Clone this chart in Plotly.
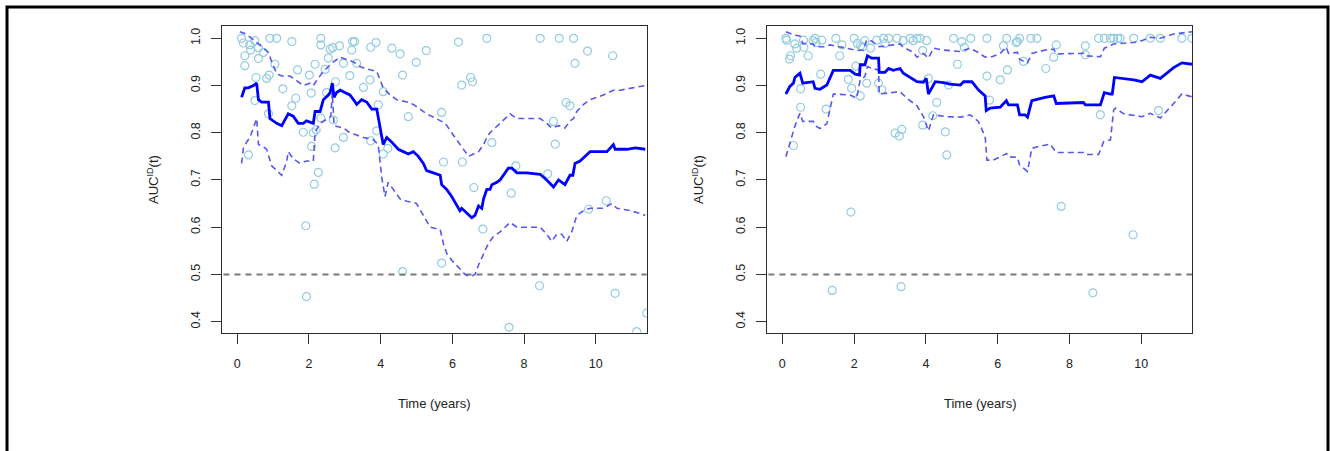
import plotly.graph_objects as go

# ---------------- data: left panel ----------------
left_auc_t = [0.12,0.21,0.31,0.45,0.54,0.59,0.68,0.87,0.91,1.10,1.24,1.42,1.56,1.70,1.84,1.93,2.12,2.17,2.31,2.40,
              2.54,2.59,2.65,2.70,2.77,2.87,3.00,3.14,3.24,3.33,3.47,3.61,3.75,3.89,4.07,4.17,4.31,4.49,4.63,4.77,
              4.91,5.05,5.19,5.28,5.47,5.66,5.70,5.84,5.98,6.12,6.21,6.26,6.45,6.54,6.63,6.73,6.82,6.87,6.96,7.05,
              7.10,7.24,7.33,7.47,7.56,7.66,7.80,8.07,8.45,8.63,8.82,8.96,9.14,9.28,9.36,9.42,9.56,9.84,10.31,10.49,
              10.54,10.87,11.10,11.38]
left_auc = [0.875,0.895,0.895,0.900,0.905,0.870,0.865,0.865,0.830,0.820,0.815,0.840,0.835,0.820,0.820,0.825,0.820,0.845,0.845,0.870,
            0.880,0.885,0.905,0.875,0.885,0.890,0.885,0.880,0.870,0.860,0.870,0.865,0.850,0.850,0.775,0.790,0.780,0.765,0.760,0.755,
            0.760,0.750,0.735,0.720,0.715,0.710,0.690,0.680,0.665,0.645,0.635,0.640,0.625,0.620,0.625,0.645,0.640,0.660,0.680,0.680,
            0.690,0.695,0.700,0.715,0.725,0.725,0.715,0.715,0.712,0.700,0.685,0.700,0.690,0.710,0.710,0.735,0.740,0.760,0.760,0.775,
            0.765,0.765,0.768,0.765]

left_hi_t = [0.07,0.21,0.40,0.63,0.87,0.96,1.10,1.24,1.47,1.66,1.84,2.03,2.12,2.21,2.40,2.68,2.87,3.05,3.24,3.42,
             3.61,3.89,4.07,4.26,4.45,4.73,4.91,5.10,5.28,5.42,5.66,5.80,5.98,6.17,6.31,6.45,6.59,6.73,6.87,6.96,
             7.05,7.19,7.38,7.61,7.80,8.45,8.63,8.77,8.96,9.14,9.28,9.38,9.47,9.66,9.84,10.21,10.49,10.68,11.38]
left_hi = [1.014,1.010,1.000,0.985,0.970,0.950,0.925,0.920,0.920,0.910,0.900,0.905,0.900,0.910,0.930,0.950,0.960,0.955,0.950,0.940,
           0.935,0.930,0.895,0.880,0.870,0.865,0.860,0.850,0.840,0.835,0.825,0.820,0.800,0.780,0.765,0.750,0.755,0.760,0.775,0.790,
           0.800,0.810,0.825,0.840,0.830,0.830,0.820,0.810,0.815,0.810,0.825,0.830,0.845,0.860,0.870,0.880,0.890,0.890,0.900]

left_lo_t = [0.12,0.17,0.26,0.35,0.45,0.49,0.54,0.59,0.73,0.82,0.96,1.10,1.24,1.38,1.42,1.56,1.75,1.93,2.12,2.17,
             2.30,2.54,2.61,2.65,2.70,2.96,3.14,3.33,3.52,3.80,3.93,4.03,4.12,4.21,4.35,4.54,4.73,5.00,5.19,5.38,
             5.66,5.75,5.84,5.98,6.17,6.35,6.49,6.63,6.73,6.87,7.00,7.14,7.33,7.61,7.80,8.45,8.63,8.77,8.91,9.05,
             9.19,9.33,9.47,9.66,9.84,10.21,10.45,10.59,10.96,11.19,11.38]
left_lo = [0.735,0.767,0.780,0.790,0.810,0.820,0.830,0.775,0.770,0.765,0.730,0.720,0.710,0.740,0.760,0.745,0.735,0.740,0.740,0.800,
           0.820,0.830,0.835,0.885,0.815,0.810,0.800,0.795,0.790,0.785,0.775,0.705,0.665,0.695,0.680,0.660,0.655,0.650,0.625,0.600,
           0.595,0.565,0.545,0.530,0.515,0.500,0.495,0.500,0.520,0.545,0.565,0.580,0.590,0.610,0.600,0.600,0.585,0.570,0.585,0.585,
           0.570,0.590,0.625,0.635,0.640,0.640,0.650,0.640,0.635,0.630,0.625]

left_pts_t = [0.12,0.17,0.21,0.21,0.31,0.35,0.37,0.49,0.49,0.52,0.59,0.59,0.73,0.82,0.87,0.89,0.91,1.05,1.10,1.27,
              1.52,1.52,1.63,1.68,1.84,1.91,1.93,2.01,2.06,2.07,2.12,2.15,2.17,2.20,2.26,2.33,2.33,2.33,2.45,2.49,
              2.54,2.59,2.66,2.68,2.73,2.74,2.85,2.96,2.96,3.14,3.19,3.22,3.27,3.33,3.52,3.70,3.72,3.72,3.87,3.89,
              3.93,4.07,4.07,4.20,4.31,4.54,4.61,4.61,4.77,4.99,5.27,5.70,5.70,5.75,6.17,6.26,6.28,6.51,6.56,6.60,
              6.85,6.96,7.10,7.58,7.64,7.77,8.43,8.45,8.66,8.82,8.87,8.98,9.17,9.28,9.38,9.42,9.77,9.80,10.29,10.47,
              10.54,11.14,11.42]
left_pts = [1.000,0.990,0.963,0.942,0.753,0.986,0.975,0.995,0.868,0.917,0.957,0.980,0.970,0.915,0.840,0.922,1.000,0.945,1.000,0.893,
            0.993,0.857,0.873,0.933,0.801,0.603,0.453,0.922,0.884,0.771,0.800,0.691,0.945,0.806,0.716,1.000,0.986,0.831,0.934,0.885,
            0.958,0.977,0.980,0.827,0.768,0.908,0.984,0.947,0.790,0.921,0.975,0.993,0.993,0.947,0.896,0.912,0.981,0.783,0.991,0.804,
            0.859,0.887,0.755,0.767,0.979,0.967,0.922,0.506,0.834,0.949,0.974,0.843,0.524,0.738,0.992,0.901,0.738,0.917,0.908,0.684,
            0.596,1.000,0.779,0.388,0.672,0.730,0.476,1.000,0.713,0.824,0.776,1.000,0.864,0.857,1.000,0.947,0.973,0.638,0.656,0.963,
            0.460,0.379,0.418]

# ---------------- data: right panel ----------------
right_auc_t = [0.10,0.21,0.31,0.35,0.49,0.57,0.86,0.91,1.05,1.24,1.42,1.89,2.03,2.15,2.17,2.30,2.37,2.49,2.68,2.70,
               2.86,2.96,3.09,3.28,3.37,3.56,3.75,3.93,4.01,4.07,4.26,4.49,4.67,4.96,5.05,5.28,5.46,5.65,5.68,5.79,
               6.07,6.24,6.30,6.55,6.61,6.76,6.83,6.95,7.14,7.32,7.56,7.63,8.39,8.44,8.86,8.97,9.14,9.19,9.25,9.79,
               10.02,10.25,10.53,10.90,11.13,11.41]
right_auc = [0.882,0.898,0.905,0.917,0.926,0.905,0.908,0.894,0.892,0.901,0.932,0.932,0.924,0.922,0.944,0.944,0.963,0.958,0.958,0.928,
             0.928,0.936,0.932,0.936,0.926,0.917,0.908,0.907,0.915,0.882,0.908,0.906,0.903,0.901,0.908,0.908,0.891,0.878,0.847,0.852,
             0.854,0.868,0.859,0.859,0.838,0.838,0.833,0.868,0.872,0.875,0.878,0.862,0.864,0.859,0.859,0.885,0.882,0.882,0.917,0.912,
             0.908,0.922,0.915,0.938,0.948,0.945]

right_hi_t = [0.10,0.31,0.49,0.57,0.86,0.91,1.15,1.33,1.79,2.07,2.26,2.35,2.49,2.70,3.09,3.28,3.37,3.65,3.75,3.93,
              4.07,4.21,4.49,4.96,5.23,5.46,5.65,5.84,6.07,6.24,6.30,6.55,6.61,6.83,6.95,7.32,7.56,7.63,8.39,8.44,
              8.86,8.97,9.23,9.79,10.02,10.25,10.53,10.90,11.41]
right_hi = [1.014,1.007,1.005,0.989,0.988,0.982,0.982,0.986,0.979,0.974,0.975,0.996,0.994,0.982,0.986,0.988,0.981,0.970,0.960,0.968,
            0.958,0.979,0.975,0.972,0.979,0.970,0.960,0.961,0.968,0.981,0.968,0.970,0.955,0.948,0.968,0.975,0.977,0.967,0.968,0.963,
            0.961,0.979,0.988,0.991,0.995,1.002,1.000,1.009,1.014]

right_lo_t = [0.10,0.21,0.35,0.49,0.57,0.86,0.96,1.05,1.24,1.42,1.89,2.07,2.17,2.30,2.37,2.49,2.68,2.70,3.00,3.28,
              3.47,3.75,3.93,4.07,4.21,4.58,4.96,5.23,5.46,5.65,5.70,5.88,6.25,6.30,6.55,6.61,6.83,6.95,7.14,7.46,
              7.63,8.39,8.44,8.81,8.95,9.14,9.23,9.28,9.51,9.79,10.02,10.25,10.53,10.90,11.13,11.41]
right_lo = [0.749,0.778,0.814,0.841,0.824,0.824,0.813,0.809,0.819,0.882,0.880,0.873,0.912,0.919,0.940,0.936,0.933,0.882,0.884,0.887,
            0.873,0.857,0.834,0.804,0.838,0.834,0.833,0.838,0.824,0.792,0.742,0.742,0.756,0.749,0.748,0.732,0.718,0.767,0.771,0.776,
            0.758,0.758,0.754,0.754,0.781,0.785,0.848,0.852,0.840,0.836,0.834,0.841,0.831,0.862,0.882,0.876]

right_pts_t = [0.10,0.12,0.20,0.23,0.31,0.35,0.40,0.51,0.51,0.59,0.60,0.72,0.86,0.91,0.94,1.07,1.10,1.22,1.39,1.49,
               1.60,1.66,1.84,1.91,1.93,2.00,2.05,2.09,2.17,2.18,2.24,2.30,2.35,2.46,2.63,2.68,2.77,2.82,2.86,2.96,
               3.14,3.19,3.26,3.31,3.33,3.37,3.56,3.65,3.75,3.84,3.91,3.91,4.02,4.07,4.19,4.30,4.54,4.58,4.63,4.77,
               4.88,5.00,5.07,5.25,5.70,5.70,5.77,6.07,6.16,6.25,6.27,6.51,6.55,6.61,6.72,6.92,7.09,7.34,7.56,7.63,
               7.77,8.44,8.44,8.65,8.81,8.86,8.97,9.14,9.23,9.34,9.41,9.77,9.79,10.25,10.48,10.53,11.13,11.41]
right_pts = [1.000,0.996,0.956,0.963,0.773,0.988,0.979,0.893,0.854,0.996,0.981,0.963,0.995,1.000,0.991,0.924,0.996,0.850,0.466,1.000,
             0.963,0.986,0.913,0.632,0.894,1.000,0.941,0.989,0.878,0.984,0.982,0.995,0.905,0.979,0.996,0.905,0.891,1.000,0.989,1.000,
             0.799,1.000,0.793,0.474,0.807,0.995,1.000,0.995,1.000,1.000,0.974,0.816,0.995,0.915,0.836,0.864,0.802,0.753,0.901,1.000,
             0.945,0.993,0.981,1.000,1.000,0.920,0.869,0.912,0.984,1.000,0.933,0.991,0.993,1.000,0.951,1.000,1.000,0.936,0.960,0.986,
             0.644,0.984,0.965,0.461,1.000,0.838,1.000,1.000,1.000,1.000,1.000,0.584,1.000,1.000,0.847,1.000,1.000,1.000]

y_ticks = [0.4, 0.5, 0.6, 0.7, 0.8, 0.9, 1.0]
x_ticks = [0, 2, 4, 6, 8, 10]
ref_level = 0.5

# ---------------- styling ----------------
W, H = 1330, 451
FONT = "Liberation Sans, Arial, Helvetica, sans-serif"
C_MAIN = "#0000FF"
C_CI = "#5858F0"
C_PTS = "#93CCE0"
C_REF = "#7A7A7A"

fig = go.Figure()

panels = [
    (1, left_auc_t, left_auc, left_hi_t, left_hi, left_lo_t, left_lo, left_pts_t, left_pts),
    (2, right_auc_t, right_auc, right_hi_t, right_hi, right_lo_t, right_lo, right_pts_t, right_pts),
]

for idx, at, av, ht, hv, lt, lv, pt, pv in panels:
    xa = "x" if idx == 1 else "x2"
    ya = "y" if idx == 1 else "y2"
    fig.add_trace(go.Scatter(x=pt, y=pv, mode="markers", xaxis=xa, yaxis=ya,
                             marker=dict(symbol="circle-open", size=8, color=C_PTS,
                                         line=dict(width=1.2, color=C_PTS)),
                             showlegend=False, hoverinfo="skip"))
    fig.add_trace(go.Scatter(x=[-1, 12], y=[ref_level, ref_level], mode="lines", xaxis=xa, yaxis=ya,
                             line=dict(color=C_REF, width=2, dash="6px,5px"),
                             showlegend=False, hoverinfo="skip"))
    for tt, vv in ((ht, hv), (lt, lv)):
        fig.add_trace(go.Scatter(x=tt, y=vv, mode="lines", xaxis=xa, yaxis=ya,
                                 line=dict(color=C_CI, width=1.6, dash="6px,4px"),
                                 showlegend=False, hoverinfo="skip"))
    fig.add_trace(go.Scatter(x=at, y=av, mode="lines", xaxis=xa, yaxis=ya,
                             line=dict(color=C_MAIN, width=2.8),
                             showlegend=False, hoverinfo="skip"))

def px_x(p):
    return p / W

def px_y(p):
    return 1 - p / H

xr = [-0.435, 11.42]
yr = [0.377, 1.026]
dom_y = [px_y(332.5), px_y(26)]
axis_common = dict(showline=True, linecolor="#2a2a2a", linewidth=1.4, mirror=True,
                   ticks="outside", ticklen=10, tickwidth=1.4, tickcolor="#333333",
                   showgrid=False, zeroline=False,
                   tickfont=dict(family=FONT, size=12.5, color="#222222"))

fig.update_layout(
    width=W, height=H, autosize=False,
    margin=dict(l=0, r=0, t=0, b=0),
    paper_bgcolor="white", plot_bgcolor="white",
    xaxis=dict(domain=[px_x(221.7), px_x(646.7)], range=xr, tickvals=x_ticks, anchor="y",
               ticklabelstandoff=9, **axis_common),
    yaxis=dict(domain=dom_y, range=yr, tickvals=y_ticks, tickformat=".1f", tickangle=-90,
               anchor="x", ticklabelstandoff=6, **axis_common),
    xaxis2=dict(domain=[px_x(766.7), px_x(1192.3)], range=xr, tickvals=x_ticks, anchor="y2",
                ticklabelstandoff=9, **axis_common),
    yaxis2=dict(domain=dom_y, range=yr, tickvals=y_ticks, tickformat=".1f", tickangle=-90,
                anchor="x2", ticklabelstandoff=6, **axis_common),
    showlegend=False,
)

annotations = []
for cx, ylab_x in ((px_x(434.2), px_x(153)), (px_x(979.5), px_x(698))):
    annotations.append(dict(text="Time (years)", x=cx, y=px_y(403.3), xref="paper", yref="paper",
                            showarrow=False, xanchor="center", yanchor="middle",
                            font=dict(family=FONT, size=13, color="#222222")))
    annotations.append(dict(text="AUC<sup>ID</sup>(t)", x=ylab_x, y=px_y(180), xref="paper", yref="paper",
                            showarrow=False, xanchor="center", yanchor="middle", textangle=-90,
                            font=dict(family=FONT, size=13, color="#222222")))
fig.update_layout(annotations=annotations)

# outer frame
fig.add_shape(type="rect", xref="paper", yref="paper",
              x0=px_x(7), x1=px_x(1328), y0=-0.2, y1=px_y(7),
              line=dict(color="black", width=3), fillcolor="rgba(0,0,0,0)", layer="above")

fig.write_html("out.html",
               config={"displayModeBar": False},
               post_script="document.body.style.margin='0';document.body.style.padding='0';"
                           "document.body.style.overflow='hidden';")
